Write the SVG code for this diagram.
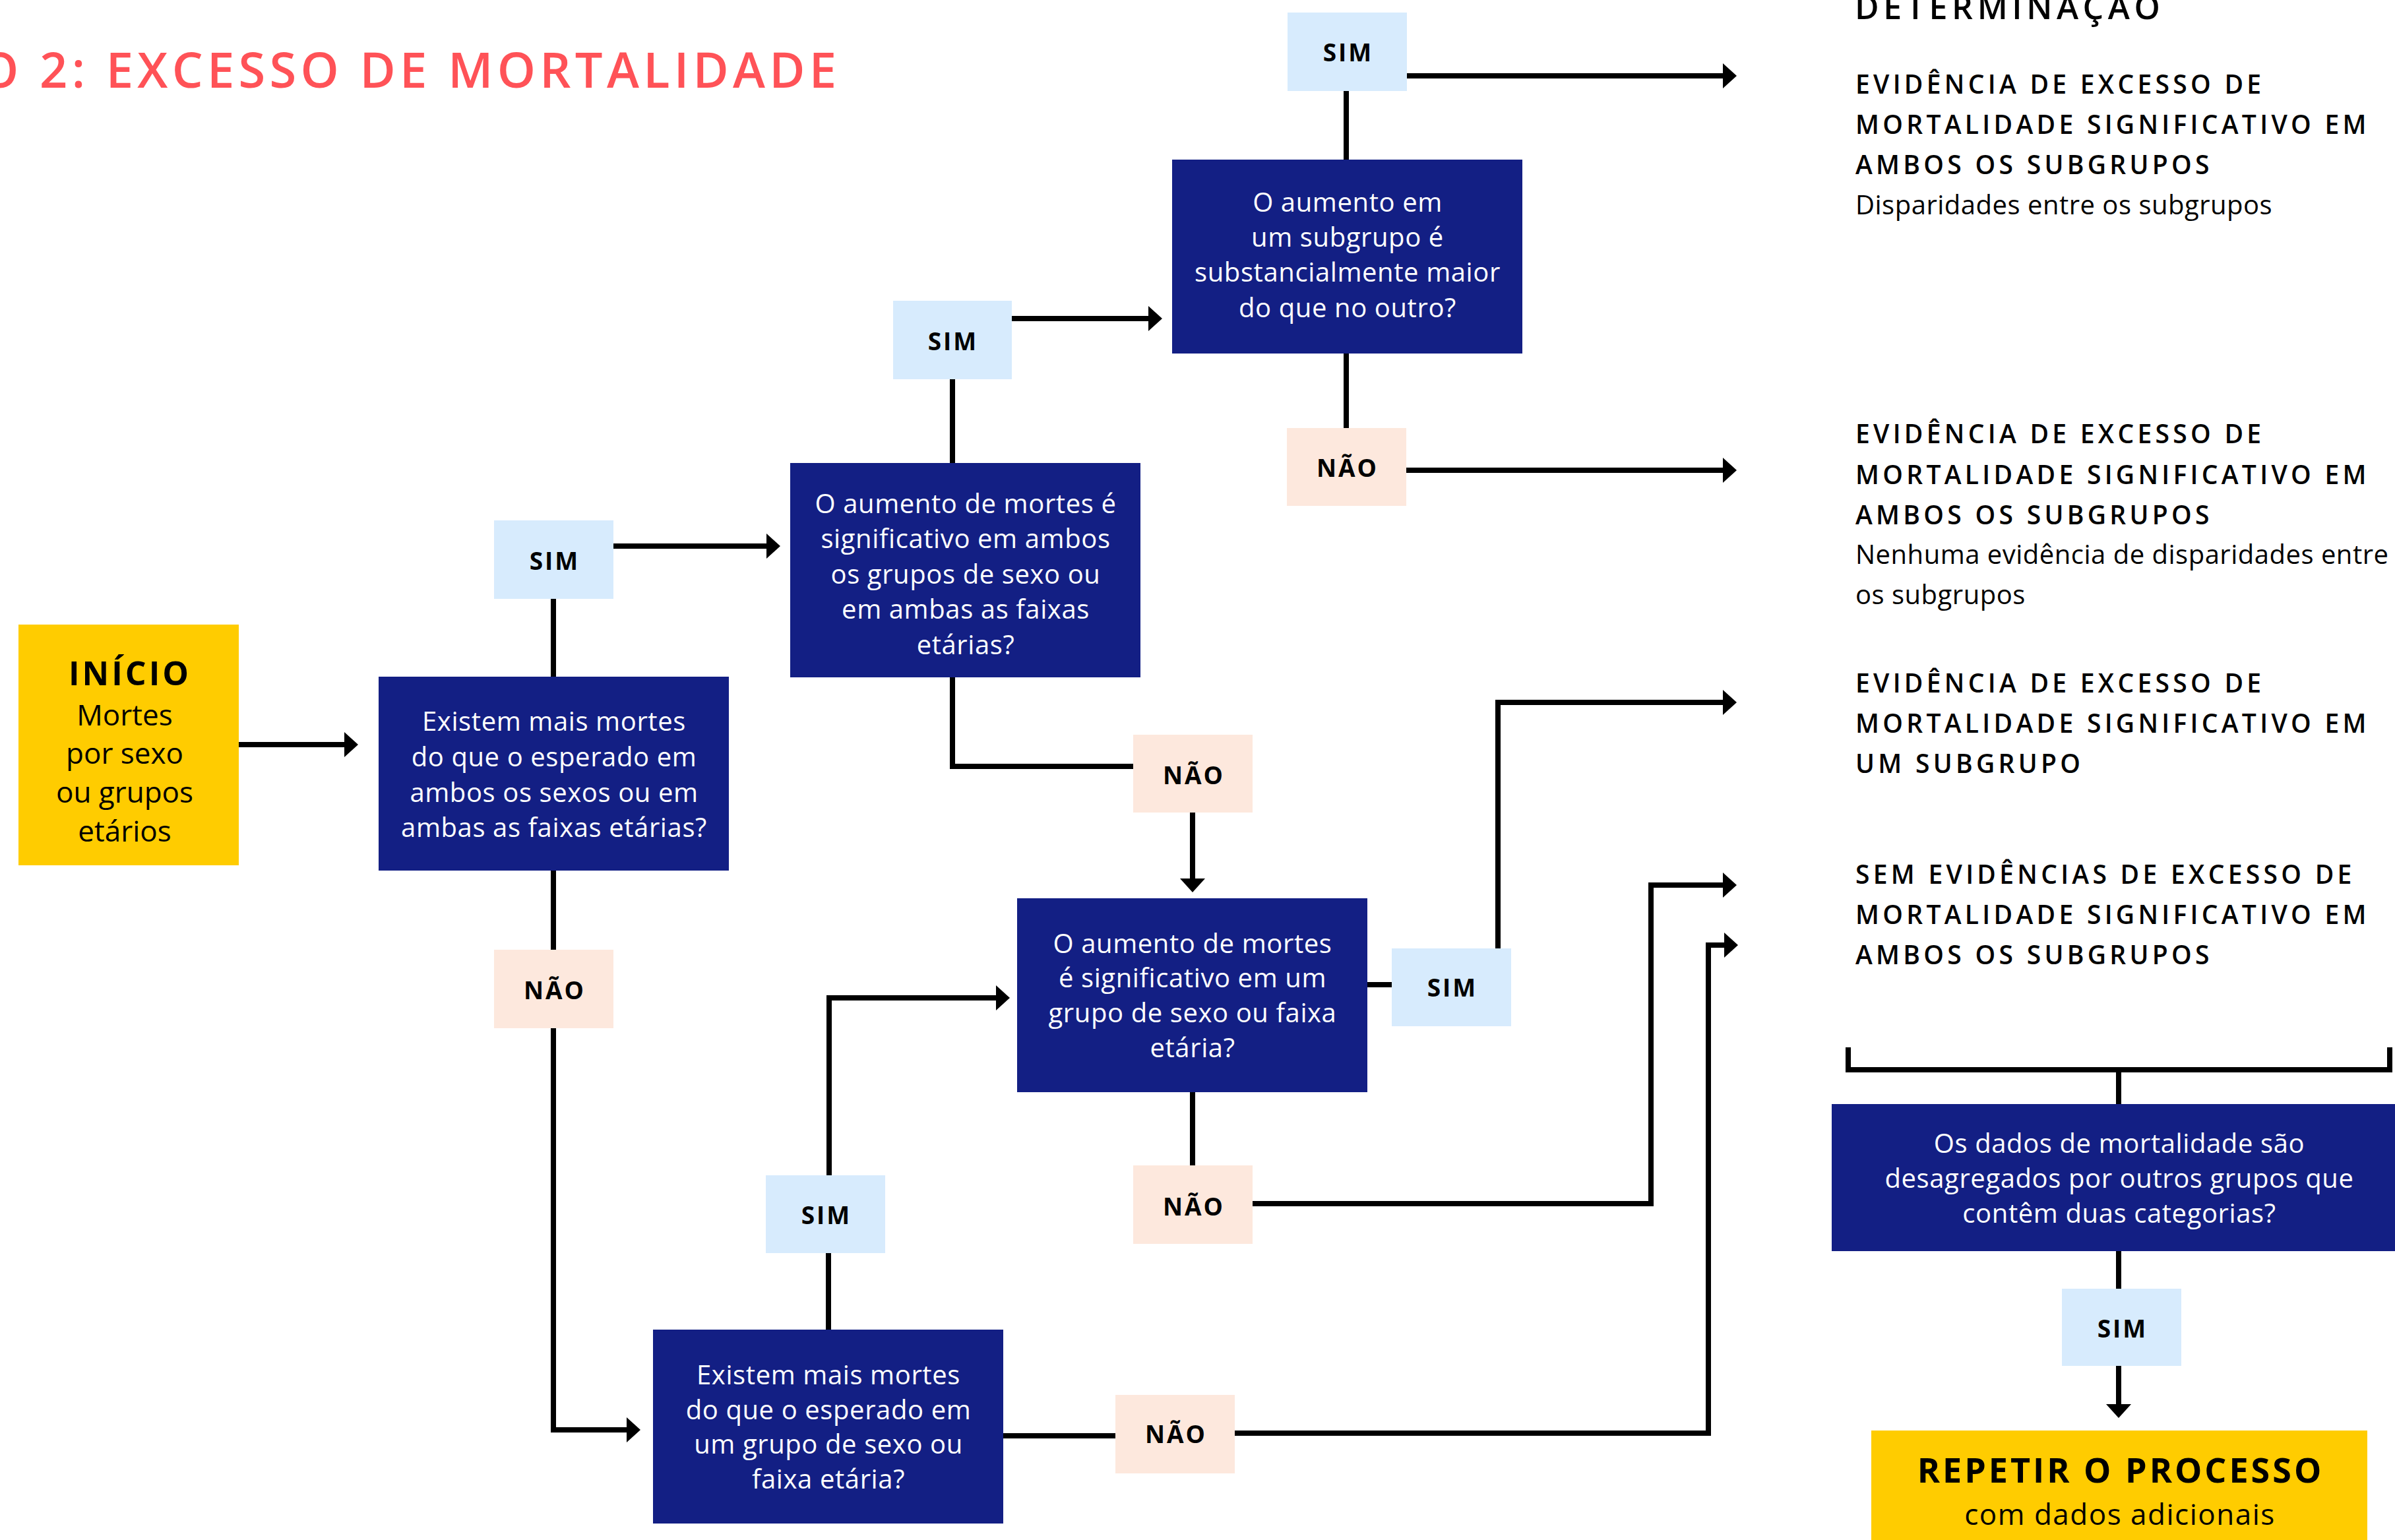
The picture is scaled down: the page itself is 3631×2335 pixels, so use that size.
<svg xmlns="http://www.w3.org/2000/svg" width="3631" height="2335" viewBox="0 0 3631 2335">
<style>
.q{fill:#131F84}
.y{fill:#FFCC00}
.s{fill:#D7EBFD}
.n{fill:#FDE8DD}
.qt{font-family:"Open Sans","Liberation Sans",sans-serif;font-size:40px;fill:#FFFFFF;text-anchor:middle;letter-spacing:0.6px}
.lb{font-family:"Open Sans","Liberation Sans",sans-serif;font-size:37px;font-weight:700;fill:#000000;text-anchor:middle;letter-spacing:3px}
.hd{font-family:"Open Sans","Liberation Sans",sans-serif;font-size:39px;font-weight:600;fill:#000000;letter-spacing:5.3px}
.bd{font-family:"Open Sans","Liberation Sans",sans-serif;font-size:40px;fill:#000000;letter-spacing:0.5px}
.c{fill:none;stroke:#000000;stroke-width:8}
</style>
<defs>
<marker id="ah" markerUnits="userSpaceOnUse" markerWidth="24" markerHeight="42" viewBox="0 -21 24 42" refX="1" refY="0" orient="auto">
<path d="M0,-19 L21,0 L0,19 Z" fill="#000000"/>
</marker>
</defs>
<rect width="3631" height="2335" fill="#FFFFFF"/>

<g id="title">
<text x="-30" y="133" font-family="'Open Sans','Liberation Sans',sans-serif" font-size="74" font-weight="600" fill="#FF5257" letter-spacing="6.3">O 2: EXCESSO DE MORTALIDADE</text>
</g>

<g id="connectors">
<path class="c" d="M362,1129 H523" marker-end="url(#ah)"/>
<path class="c" d="M839,1026 V908"/>
<path class="c" d="M930,828 H1163" marker-end="url(#ah)"/>
<path class="c" d="M1444,702 V575"/>
<path class="c" d="M1534,483 H1742" marker-end="url(#ah)"/>
<path class="c" d="M2041,242 V138"/>
<path class="c" d="M2133,115 H2613" marker-end="url(#ah)"/>
<path class="c" d="M2041,536 V649"/>
<path class="c" d="M2132,713 H2613" marker-end="url(#ah)"/>
<path class="c" d="M1444,1027 V1162 H1718"/>
<path class="c" d="M1808,1232 V1333" marker-end="url(#ah)"/>
<path class="c" d="M2073,1493 H2110"/>
<path class="c" d="M2271,1438 V1065 H2613" marker-end="url(#ah)"/>
<path class="c" d="M1808,1656 V1767"/>
<path class="c" d="M1899,1825 H2503 V1342 H2613" marker-end="url(#ah)"/>
<path class="c" d="M839,1320 V1440"/>
<path class="c" d="M839,1559 V2168 H951" marker-end="url(#ah)"/>
<path class="c" d="M1256,2016 V1900"/>
<path class="c" d="M1257,1782 V1513 H1511" marker-end="url(#ah)"/>
<path class="c" d="M1521,2177 H1691"/>
<path class="c" d="M1872,2173 H2590 V1433 H2615" marker-end="url(#ah)"/>
<path class="c" d="M2802,1588 V1622 H3623 V1588"/>
<path class="c" d="M3212,1622 V1674"/>
<path class="c" d="M3212,1897 V1954"/>
<path class="c" d="M3212,2071 V2130" marker-end="url(#ah)"/>
</g>

<g id="inicio">
<rect class="y" x="28" y="947" width="334" height="365"/>
<text x="197" y="1039" font-family="'Open Sans','Liberation Sans',sans-serif" font-size="50" font-weight="700" text-anchor="middle" letter-spacing="4">INÍCIO</text>
<text x="189" y="1100" font-family="'Open Sans','Liberation Sans',sans-serif" font-size="44" text-anchor="middle">Mortes</text>
<text x="189" y="1158" font-family="'Open Sans','Liberation Sans',sans-serif" font-size="44" text-anchor="middle">por sexo</text>
<text x="189" y="1217" font-family="'Open Sans','Liberation Sans',sans-serif" font-size="44" text-anchor="middle">ou grupos</text>
<text x="189" y="1276" font-family="'Open Sans','Liberation Sans',sans-serif" font-size="44" text-anchor="middle">etários</text>
</g>

<g id="q1">
<rect class="q" x="574" y="1026" width="531" height="294"/>
<text class="qt" x="840" y="1108">Existem mais mortes</text>
<text class="qt" x="840" y="1162">do que o esperado em</text>
<text class="qt" x="840" y="1216">ambos os sexos ou em</text>
<text class="qt" x="840" y="1269">ambas as faixas etárias?</text>
</g>
<g id="sim1"><rect class="s" x="749" y="789" width="181" height="119"/><text class="lb" x="841" y="864">SIM</text></g>
<g id="nao1"><rect class="n" x="749" y="1440" width="181" height="119"/><text class="lb" x="841" y="1515">NÃO</text></g>

<g id="q2">
<rect class="q" x="1198" y="702" width="531" height="325"/>
<text class="qt" x="1464" y="778">O aumento de mortes é</text>
<text class="qt" x="1464" y="831">significativo em ambos</text>
<text class="qt" x="1464" y="885">os grupos de sexo ou</text>
<text class="qt" x="1464" y="938">em ambas as faixas</text>
<text class="qt" x="1464" y="992">etárias?</text>
</g>
<g id="sim2"><rect class="s" x="1354" y="456" width="180" height="119"/><text class="lb" x="1445" y="531">SIM</text></g>
<g id="nao2"><rect class="n" x="1718" y="1114" width="181" height="118"/><text class="lb" x="1810" y="1189">NÃO</text></g>

<g id="q3">
<rect class="q" x="1777" y="242" width="531" height="294"/>
<text class="qt" x="2043" y="321">O aumento em</text>
<text class="qt" x="2043" y="374">um subgrupo é</text>
<text class="qt" x="2043" y="427">substancialmente maior</text>
<text class="qt" x="2043" y="481">do que no outro?</text>
</g>
<g id="sim3"><rect class="s" x="1952" y="19" width="181" height="119"/><text class="lb" x="2044" y="93">SIM</text></g>
<g id="nao3"><rect class="n" x="1951" y="649" width="181" height="118"/><text class="lb" x="2043" y="723">NÃO</text></g>

<g id="q4">
<rect class="q" x="1542" y="1362" width="531" height="294"/>
<text class="qt" x="1808" y="1445">O aumento de mortes</text>
<text class="qt" x="1808" y="1497">é significativo em um</text>
<text class="qt" x="1808" y="1550">grupo de sexo ou faixa</text>
<text class="qt" x="1808" y="1603">etária?</text>
</g>
<g id="sim4"><rect class="s" x="2110" y="1438" width="181" height="118"/><text class="lb" x="2202" y="1511">SIM</text></g>
<g id="nao4"><rect class="n" x="1718" y="1767" width="181" height="119"/><text class="lb" x="1810" y="1843">NÃO</text></g>

<g id="q5">
<rect class="q" x="990" y="2016" width="531" height="294"/>
<text class="qt" x="1256" y="2099">Existem mais mortes</text>
<text class="qt" x="1256" y="2152">do que o esperado em</text>
<text class="qt" x="1256" y="2204">um grupo de sexo ou</text>
<text class="qt" x="1256" y="2257">faixa etária?</text>
</g>
<g id="sim5"><rect class="s" x="1161" y="1782" width="181" height="118"/><text class="lb" x="1253" y="1856">SIM</text></g>
<g id="nao5"><rect class="n" x="1691" y="2115" width="181" height="119"/><text class="lb" x="1783" y="2188">NÃO</text></g>

<g id="q6">
<rect class="q" x="2777" y="1674" width="871" height="223"/>
<text class="qt" x="3213" y="1748">Os dados de mortalidade são</text>
<text class="qt" x="3213" y="1801">desagregados por outros grupos que</text>
<text class="qt" x="3213" y="1854">contêm duas categorias?</text>
</g>
<g id="sim6"><rect class="s" x="3126" y="1954" width="181" height="117"/><text class="lb" x="3218" y="2028">SIM</text></g>

<g id="repetir">
<rect class="y" x="2837" y="2169" width="752" height="200"/>
<text x="3215" y="2248" font-family="'Open Sans','Liberation Sans',sans-serif" font-size="52" font-weight="700" text-anchor="middle" letter-spacing="4">REPETIR O PROCESSO</text>
<text x="3214" y="2312" font-family="'Open Sans','Liberation Sans',sans-serif" font-size="44" text-anchor="middle" letter-spacing="1.5">com dados adicionais</text>
</g>

<g id="determinacao">
<text x="2812" y="29" font-family="'Open Sans','Liberation Sans',sans-serif" font-size="50" font-weight="600" letter-spacing="6.6">DETERMINAÇÃO</text>
</g>
<g id="result1">
<text class="hd" x="2813" y="142">EVIDÊNCIA DE EXCESSO DE</text>
<text class="hd" x="2813" y="203">MORTALIDADE SIGNIFICATIVO EM</text>
<text class="hd" x="2813" y="264">AMBOS OS SUBGRUPOS</text>
<text class="bd" x="2813" y="325">Disparidades entre os subgrupos</text>
</g>
<g id="result2">
<text class="hd" x="2813" y="672">EVIDÊNCIA DE EXCESSO DE</text>
<text class="hd" x="2813" y="734">MORTALIDADE SIGNIFICATIVO EM</text>
<text class="hd" x="2813" y="795">AMBOS OS SUBGRUPOS</text>
<text class="bd" x="2813" y="855">Nenhuma evidência de disparidades entre</text>
<text class="bd" x="2813" y="916">os subgrupos</text>
</g>
<g id="result3">
<text class="hd" x="2813" y="1050">EVIDÊNCIA DE EXCESSO DE</text>
<text class="hd" x="2813" y="1111">MORTALIDADE SIGNIFICATIVO EM</text>
<text class="hd" x="2813" y="1172">UM SUBGRUPO</text>
</g>
<g id="result4">
<text class="hd" x="2813" y="1340">SEM EVIDÊNCIAS DE EXCESSO DE</text>
<text class="hd" x="2813" y="1401">MORTALIDADE SIGNIFICATIVO EM</text>
<text class="hd" x="2813" y="1462">AMBOS OS SUBGRUPOS</text>
</g>
</svg>
